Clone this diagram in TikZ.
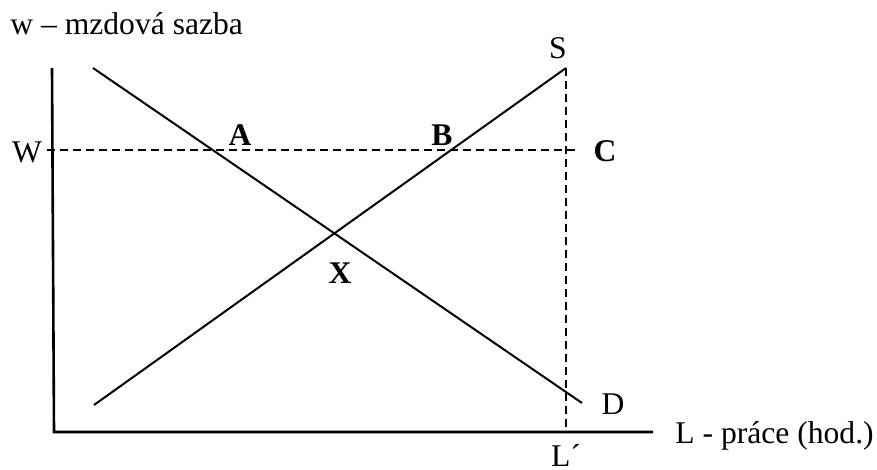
\documentclass[tikz,border=0pt]{standalone}
\usepackage{fontspec}
\setmainfont{Liberation Serif}
\usepackage{tikz}
\usetikzlibrary{positioning}
\tikzset{
    curve/.style = {line width=1pt, black},
    axis/.style = {line width=1.3pt, black},
    guide/.style = {line width=1pt, dash pattern=on 4pt off 2.5pt},
    lbl/.style = {inner sep=0pt, font=\fontsize{15.8}{18}\selectfont},
    pt/.style = {lbl, font=\fontsize{15.8}{18}\selectfont\bfseries}
}

\begin{document}
\begin{tikzpicture}[x=0.5pt, y=-0.5pt]
        \useasboundingbox (0,0) rectangle (877,470);

        % Axes
        \coordinate (top) at (52,68);
        \coordinate (origin) at (54,432);
        \coordinate (right) at (653,432);
        \draw[axis] (top) -- (origin) -- (right);

        % Demand and supply
        \coordinate (d0) at (93,68);
        \coordinate (d1) at (582,403);
        \coordinate (s0) at (94,405);
        \coordinate (s1) at (566,68);
        \draw[curve] (d0) -- (d1);
        \draw[curve] (s0) -- (s1);

        % Wage level and L'
        \coordinate (w0) at (47,150);
        \coordinate (w1) at (576,150);
        \coordinate (lq) at (566,432);
        \draw[guide] (w0) -- (w1);
        \draw[guide] (s1) -- (lq);

        % Labels
        \node[lbl, anchor=base west] (ylabel) at (10,35) {w – mzdová sazba};
        \node[lbl, anchor=base] (wlabel) at (27,163) {W};
        \node[pt, anchor=base] (A) at (240,146) {A};
        \node[pt, anchor=base] (B) at (442,146) {B};
        \node[pt, anchor=base] (C) at (605,162) {C};
        \node[lbl, anchor=base] (S) at (558,59) {S};
        \node[pt, anchor=base] (X) at (340,283) {X};
        \node[lbl, anchor=base] (D) at (613,414) {D};
        \node[lbl, anchor=base west] (xlabel) at (675,443) {L - práce (hod.)};
        \node[lbl, anchor=base] (Lq) at (566,466) {L´};
    \end{tikzpicture}
\end{document}
